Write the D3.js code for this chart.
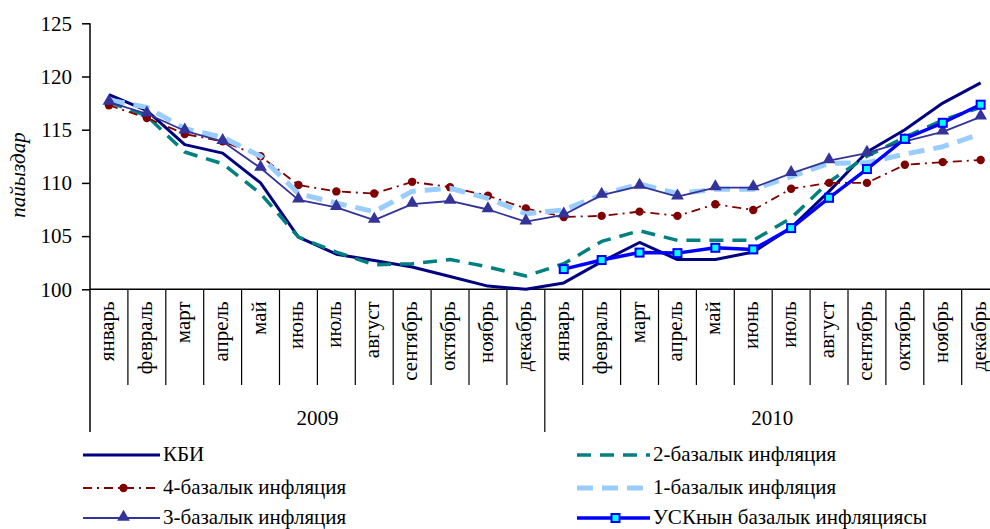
<!DOCTYPE html>
<html>
<head>
<meta charset="utf-8">
<script src="https://cdn.jsdelivr.net/npm/d3@7/dist/d3.min.js"></script>
<style>
html,body{margin:0;padding:0;background:#fff;overflow:hidden;}
svg text{font-family:'Liberation Serif','Times New Roman','DejaVu Serif',serif !important;fill:#000;}
</style>
</head>
<body>
<svg id="chart" width="990" height="529"></svg>
<script>
const months = ["январь","февраль","март","апрель","май","июнь","июль","август","сентябрь","октябрь","ноябрь","декабрь"];
const years = ["2009","2010"];
const yTicks = [100,105,110,115,120,125];

const kbi   = [118.3,116.8,113.6,112.8,110.0,104.9,103.3,102.7,102.1,101.2,100.3,100.0, 100.6,102.6,104.4,102.8,102.8,103.5,105.8,109.2,112.9,115.0,117.5,119.4];
const core2 = [117.6,116.3,112.9,111.8,109.0,104.9,103.5,102.3,102.4,102.8,102.1,101.25, 102.4,104.5,105.5,104.6,104.6,104.6,106.7,110.1,112.5,114.3,115.9,117.1];
const core4 = [117.3,116.1,114.6,113.9,112.5,109.8,109.2,109.0,110.1,109.6,108.8,107.6, 106.8,106.9,107.3,106.9,108.0,107.45,109.45,110.0,110.0,111.7,111.95,112.15];
const core1 = [117.8,117.1,115.1,114.3,112.5,109.0,108.1,107.3,109.2,109.5,108.55,107.1, 107.45,108.9,109.9,109.0,109.4,109.4,110.6,111.85,111.9,112.7,113.4,114.6];
const core3 = [117.6,116.5,114.9,113.9,111.4,108.4,107.7,106.5,108.0,108.3,107.5,106.35, 107.0,108.85,109.7,108.7,109.55,109.55,110.9,112.1,112.8,113.9,114.8,116.2];
const usk   = [null,null,null,null,null,null,null,null,null,null,null,null, 101.9,102.75,103.45,103.4,103.9,103.75,105.75,108.6,111.3,114.15,115.65,117.35];

const legendNames = ["КБИ","2-базалык инфляция","4-базалык инфляция","1-базалык инфляция","3-базалык инфляция","УСКнын базалык инфляциясы"];

const FONT = "'Liberation Serif','Times New Roman','DejaVu Serif',serif";
const keys = [];
years.forEach(y => months.forEach(m => keys.push(y + "|" + m)));

const svg = d3.select("#chart");
const left = 90, bandW = 37.9;
const x = d3.scaleBand().domain(keys).range([left, left + bandW * keys.length]);
const y = d3.scaleLinear().domain([100,125]).range([289.3, 23.3]);
const x0 = y(100);

// Y axis
const yAxis = d3.axisLeft(y).tickValues(yTicks).tickSize(8).tickPadding(10).tickFormat(d3.format("d"));
const gy = svg.append("g").attr("transform", `translate(${left},0)`).call(yAxis);
gy.attr("font-family", FONT).attr("font-size", 21);
gy.select(".domain").remove();
gy.selectAll("line").attr("stroke","#000").attr("stroke-width",1.5);
gy.selectAll("text").style("font-family",FONT).style("font-size","21px").attr("fill","#000");

svg.append("line").attr("x1",left).attr("x2",left).attr("y1",y(125)).attr("y2",432)
  .attr("stroke","#000").attr("stroke-width",1.5);
svg.append("line").attr("x1",left).attr("x2",990).attr("y1",x0).attr("y2",x0)
  .attr("stroke","#000").attr("stroke-width",1.5);

// X category ticks (month boundaries)
const gx = svg.append("g");
keys.forEach((k,i) => {
  const bx = x(k);
  const isYear = (i % 12 === 0);
  if (i > 0) {
    gx.append("line").attr("x1",bx).attr("x2",bx).attr("y1",x0).attr("y2", isYear ? 432 : 385)
      .attr("stroke","#000").attr("stroke-width",1.2);
  }
});
gx.append("line").attr("x1",x.range()[1]).attr("x2",x.range()[1]).attr("y1",x0).attr("y2",432).attr("stroke","#000");

keys.forEach(k => {
  const cx = x(k) + x.bandwidth()/2;
  const m = k.split("|")[1];
  gx.append("text")
    .attr("transform", `translate(${cx+5},${x0+12}) rotate(-90)`)
    .attr("text-anchor","end")
    .style("font-family",FONT)
    .style("font-size","21px")
    .text(m);
});
years.forEach((yr,j) => {
  const x1 = x(yr + "|" + months[0]);
  const x2 = x(yr + "|" + months[11]) + x.bandwidth();
  gx.append("text").attr("x",(x1+x2)/2).attr("y",425).attr("text-anchor","middle")
    .style("font-family",FONT).style("font-size","21px").text(yr);
});

// Y title
svg.append("text").attr("transform","translate(25,175) rotate(-90)").attr("text-anchor","middle")
  .style("font-family",FONT).style("font-size","21px").style("font-style","italic").text("пайыздар");

// series
const series = [
  {name:legendNames[0], data:kbi,   color:"#000080", w:3,   dash:null,        marker:null},
  {name:legendNames[1], data:core2, color:"#008080", w:3.5, dash:"14,9",      marker:null},
  {name:legendNames[2], data:core4, color:"#800000", w:1.8, dash:"9,5,2,5",   marker:"circle"},
  {name:legendNames[3], data:core1, color:"#99CCFF", w:5,   dash:"16,9",      marker:null},
  {name:legendNames[4], data:core3, color:"#333399", w:1.8, dash:null,        marker:"triangle"},
  {name:legendNames[5], data:usk,   color:"#0000FF", w:3.5, dash:null,        marker:"square"}
];
const drawOrder = [0,1,2,3,4,5];
const line = d3.line().defined(d => d.v != null).x(d => x(d.k) + x.bandwidth()/2).y(d => y(d.v));

function drawMarker(g, type, cx, cy, color) {
  if (type === "circle") {
    g.append("circle").attr("cx",cx).attr("cy",cy).attr("r",4.2).attr("fill",color);
  } else if (type === "triangle") {
    g.append("path").attr("d", d3.symbol().type(d3.symbolTriangle).size(70)())
      .attr("transform",`translate(${cx},${cy-1})`).attr("fill",color);
  } else if (type === "square") {
    g.append("rect").attr("x",cx-4).attr("y",cy-4).attr("width",8).attr("height",8)
      .attr("fill","#00FFFF").attr("stroke",color).attr("stroke-width",2);
  }
}

drawOrder.forEach(i => {
  const s = series[i];
  const pts = keys.map((k,j) => ({k:k, v:s.data[j]}));
  const g = svg.append("g");
  g.append("path").datum(pts).attr("d",line).attr("fill","none").attr("stroke",s.color)
    .attr("stroke-width",s.w).attr("stroke-dasharray",s.dash).attr("stroke-linejoin","round");
  if (s.marker) {
    pts.filter(p => p.v != null).forEach(p => drawMarker(g, s.marker, x(p.k)+x.bandwidth()/2, y(p.v), s.color));
  }
});

// legend
const legPos = [
  {x:83, y:455}, {x:577, y:455},
  {x:83, y:488}, {x:577, y:488},
  {x:83, y:518}, {x:577, y:518}
];
series.forEach((s,i) => {
  const p = legPos[i];
  const g = svg.append("g");
  const lw = (i % 2 === 0) ? 77 : 73;
  g.append("line").attr("x1",p.x).attr("x2",p.x+lw).attr("y1",p.y).attr("y2",p.y)
    .attr("stroke",s.color).attr("stroke-width",s.w).attr("stroke-dasharray",s.dash);
  if (s.marker) drawMarker(g, s.marker, p.x + lw/2 + 2, p.y, s.color);
  g.append("text").attr("x",p.x+lw+3).attr("y",p.y+6).style("font-family",FONT).style("font-size","21px").text(s.name);
});
</script>
</body>
</html>
